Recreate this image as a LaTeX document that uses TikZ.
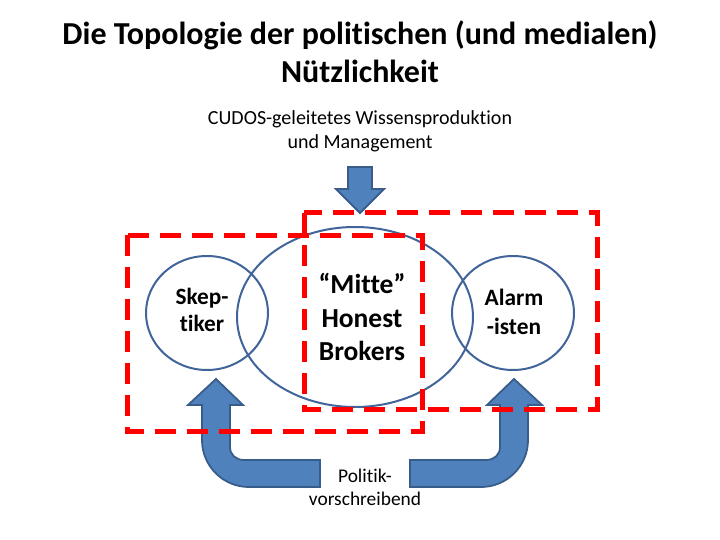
\documentclass[tikz,border=0pt]{standalone}
\usepackage{fontspec}
\setmainfont{Carlito}[Ligatures=NoCommon]
\usepackage{tikz}
\usetikzlibrary{positioning, calc}

\definecolor{blockfill}{HTML}{4F81BD}
\definecolor{blockline}{HTML}{385D8A}
\definecolor{ringline}{HTML}{41649A}

\begin{document}
\begin{tikzpicture}[
  x=1pt, y=-1pt,
  ring/.style={draw=ringline, line width=2pt},
  zone/.style={draw=red, line width=5pt, dash pattern=on 21pt off 11pt},
  block/.style={fill=blockfill, draw=blockline, line width=1.8pt, line join=miter},
  lbl/.style={align=center, inner sep=0pt},
]
  \useasboundingbox (0,0) rectangle (720,540);

  % title and the two captions
  \node[lbl, font=\fontsize{32}{38}\selectfont\bfseries] (title) at (360,52)
    {Die Topologie der politischen (und medialen)\\Nützlichkeit};
  \node[lbl, font=\fontsize{20}{24}\selectfont] (cudos) at (360,131)
    {CUDOS-geleitetes Wissensproduktion\\und Management};
  \node[lbl, font=\fontsize{19.4}{23}\selectfont] (politik) at (365,487)
    {Politik-\\vorschreibend};

  % the three positions
  \draw[ring] (355,317) ellipse [x radius=118, y radius=90];
  \draw[ring] (207,313) ellipse [x radius=61, y radius=57];
  \draw[ring] (513,313) ellipse [x radius=61, y radius=57];
  \node[lbl, font=\fontsize{23.3}{27}\selectfont\bfseries] (skep) at (202,310) {Skep-\\tiker};
  \node[lbl, font=\fontsize{27.5}{33.5}\selectfont\bfseries] (mitte) at (362,317)
    {“Mitte”\\Honest\\Brokers};
  \node[lbl, font=\fontsize{23.4}{29}\selectfont\bfseries] (alarm) at (514,312) {Alarm\\-isten};

  % arrows
  \draw[block] (360,213) -- (384,189) -- (372,189) -- (372,167) -- (348,167)
    -- (348,189) -- (336,189) -- cycle;
  \draw[block] (216,379) -- (243,405) -- (230,405) -- (230,447)
    .. controls (230,455) and (236,460) .. (244,460) -- (320,460) -- (320,487)
    -- (249,487) .. controls (223,487) and (202,466) .. (202,440)
    -- (202,405) -- (188,405) -- cycle;
  \draw[block] (514,379) -- (487,405) -- (500,405) -- (500,447)
    .. controls (500,455) and (494,460) .. (486,460) -- (410,460) -- (410,487)
    -- (481,487) .. controls (507,487) and (528,466) .. (528,440)
    -- (528,405) -- (542,405) -- cycle;

  % the two camps
  \draw[zone] (127,235) rectangle (422,431);
  \draw[zone] (304,213) rectangle (597,409);
\end{tikzpicture}
\end{document}
